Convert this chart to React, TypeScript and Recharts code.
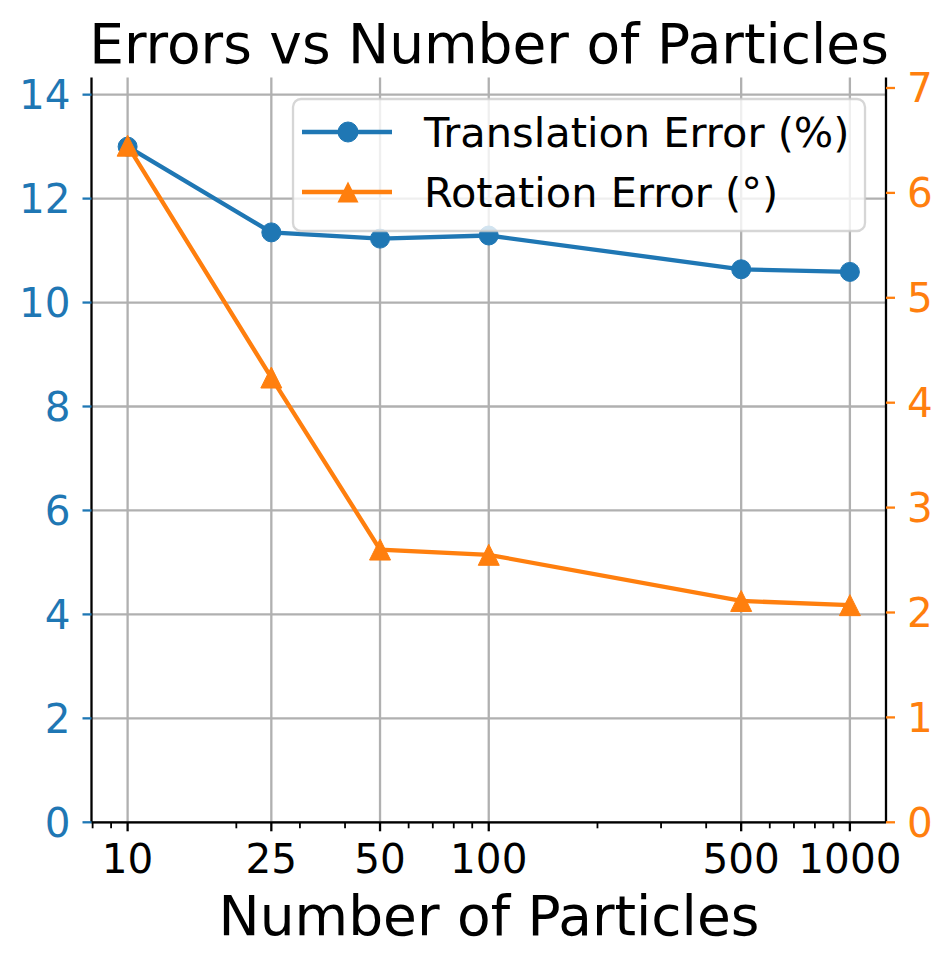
import React from 'react';
import { ComposedChart, Line, XAxis, YAxis, CartesianGrid, Legend, Customized } from 'recharts';

const particles = [10, 25, 50, 100, 500, 1000];
const translationError = [13.0, 11.35, 11.23, 11.29, 10.64, 10.59];
const rotationError = [6.45, 4.24, 2.6, 2.55, 2.11, 2.07];

const xMajorTicks = [10, 25, 50, 100, 500, 1000];
const xMinorTicks = [8, 9, 20, 30, 40, 60, 70, 80, 90, 200, 300, 400, 600, 700, 800, 900];
const leftTicks = [0, 2, 4, 6, 8, 10, 12, 14];
const rightTicks = [0, 1, 2, 3, 4, 5, 6, 7];

const title = 'Errors vs Number of Particles';
const xLabel = 'Number of Particles';
const seriesNames = ['Translation Error (%)', 'Rotation Error (°)'];

const BLUE = '#1f77b4';
const ORANGE = '#ff7f0e';
const FONT = '"DejaVu Sans", sans-serif';

const data = particles.map((p, i) => ({
  n: p,
  translation: translationError[i],
  rotation: rotationError[i],
}));

const xDomain = [Math.pow(10, 0.9), Math.pow(10, 3.1)];
const allXTicks = [...xMajorTicks, ...xMinorTicks].sort((a, b) => a - b);

const XTick = (props: any) => {
  const { x, y, payload } = props;
  const v = payload.value;
  const major = xMajorTicks.includes(v);
  return (
    <g>
      <line x1={x} x2={x} y1={y} y2={y + (major ? 9 : 6)} stroke="#000" strokeWidth={major ? 2.3 : 1.8} />
      {major && (
        <text x={x} y={y + 51} textAnchor="middle" fontSize={40.5} fontFamily={FONT} fill="#000">
          {v}
        </text>
      )}
    </g>
  );
};

const Triangle = (props: any) => {
  const { cx, cy } = props;
  if (cx == null || cy == null) return null;
  const s = 10.5;
  return (
    <polygon
      points={`${cx},${cy - s} ${cx - s},${cy + s} ${cx + s},${cy + s}`}
      fill={ORANGE}
      stroke={ORANGE}
      strokeWidth={1}
      strokeLinejoin="miter"
    />
  );
};

const LegendBox = () => (
  <svg width={575} height={135} style={{ display: 'block', overflow: 'visible' }}>
    <rect x={1} y={1} width={572} height={132} rx={8} ry={8} fill="#ffffff" fillOpacity={0.8} stroke="#cccccc" strokeOpacity={0.8} strokeWidth={2.3} />
    <line x1={10} x2={100} y1={34} y2={34} stroke={BLUE} strokeWidth={4.3} />
    <circle cx={56} cy={34} r={10} fill={BLUE} stroke={BLUE} strokeWidth={1} />
    <text x={132} y={49} fontSize={41.5} fontFamily={FONT} fill="#000">{seriesNames[0]}</text>
    <line x1={10} x2={100} y1={94} y2={94} stroke={ORANGE} strokeWidth={4.3} />
    <polygon points={`56,${94 - 10.5} ${56 - 10.5},${94 + 10.5} ${56 + 10.5},${94 + 10.5}`} fill={ORANGE} />
    <text x={132} y={109} fontSize={41.5} fontFamily={FONT} fill="#000">{seriesNames[1]}</text>
  </svg>
);

const Titles = () => (
  <g>
    <text x={489} y={63} textAnchor="middle" fontSize={55} fontFamily={FONT} fill="#000">{title}</text>
    <text x={489} y={935} textAnchor="middle" fontSize={55} fontFamily={FONT} fill="#000">{xLabel}</text>
  </g>
);

export default function App() {
  return (
    <div style={{ position: 'absolute', left: 0, top: 0, width: 952, height: 967, background: '#fff' }}>
      <ComposedChart
        width={952}
        height={967}
        data={data}
        margin={{ top: 77.5, right: 0, bottom: 0, left: 0 }}
      >
        <CartesianGrid
          xAxisId="main"
          yAxisId="left"
          stroke="#b0b0b0"
          strokeWidth={2.3}
          verticalValues={xMajorTicks}
          horizontalValues={leftTicks}
        />
        <XAxis
          xAxisId="main"
          dataKey="n"
          type="number"
          scale="log"
          domain={xDomain}
          allowDataOverflow
          ticks={allXTicks}
          interval={0}
          tickSize={0}
          tickMargin={0}
          tickLine={false}
          tick={<XTick />}
          height={144.7}
          axisLine={{ stroke: '#000', strokeWidth: 2.3 }}
        />
        <XAxis
          xAxisId="top"
          orientation="top"
          dataKey="n"
          type="number"
          scale="log"
          domain={xDomain}
          allowDataOverflow
          height={0}
          tick={false}
          tickLine={false}
          axisLine={{ stroke: '#000', strokeWidth: 2.3 }}
        />
        <YAxis
          yAxisId="left"
          orientation="left"
          width={91.5}
          type="number"
          domain={[0, 14.33]}
          allowDataOverflow
          ticks={leftTicks}
          interval={0}
          tickSize={9}
          tickMargin={12}
          tick={{ fill: BLUE, fontSize: 40.5, fontFamily: FONT }}
          tickLine={{ stroke: BLUE, strokeWidth: 2.3 }}
          axisLine={{ stroke: '#000', strokeWidth: 2.3 }}
        />
        <YAxis
          yAxisId="right"
          orientation="right"
          width={66}
          type="number"
          domain={[0, 7.1]}
          allowDataOverflow
          ticks={rightTicks}
          interval={0}
          tickSize={9}
          tickMargin={12}
          tick={{ fill: ORANGE, fontSize: 40.5, fontFamily: FONT }}
          tickLine={{ stroke: ORANGE, strokeWidth: 2.3 }}
          axisLine={{ stroke: '#000', strokeWidth: 2.3 }}
        />
        <Line
          xAxisId="main"
          yAxisId="left"
          dataKey="translation"
          name={seriesNames[0]}
          stroke={BLUE}
          strokeWidth={4.3}
          dot={{ r: 9.5, fill: BLUE, stroke: BLUE, strokeWidth: 1 }}
          activeDot={false}
          isAnimationActive={false}
        />
        <Line
          xAxisId="main"
          yAxisId="right"
          dataKey="rotation"
          name={seriesNames[1]}
          stroke={ORANGE}
          strokeWidth={4.3}
          dot={<Triangle />}
          activeDot={false}
          isAnimationActive={false}
        />
        <Legend
          layout="horizontal"
          verticalAlign="middle"
          align="center"
          content={<LegendBox />}
          wrapperStyle={{ position: 'absolute', left: 292, top: 98, width: 575, height: 135, bottom: 'auto', right: 'auto' }}
        />
        <Customized component={<Titles />} />
      </ComposedChart>
    </div>
  );
}
